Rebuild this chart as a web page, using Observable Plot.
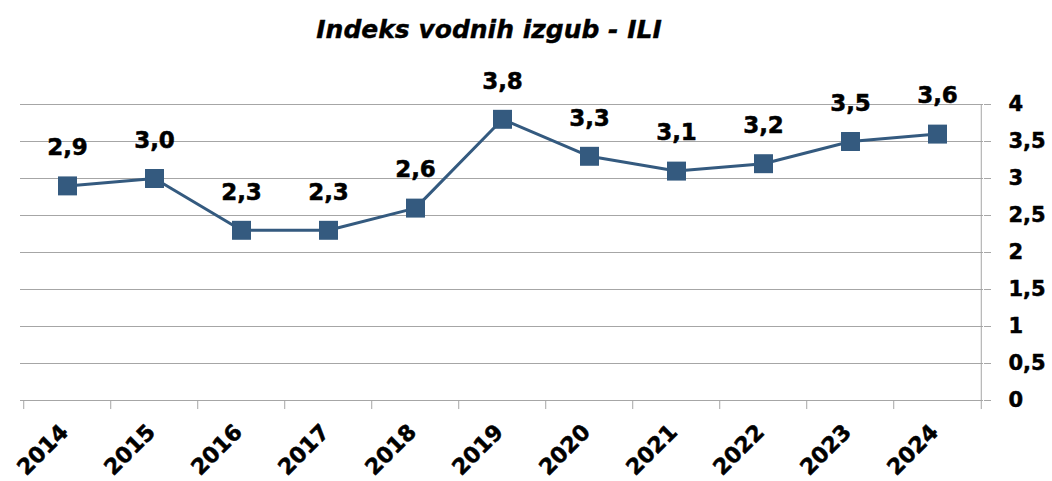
<!DOCTYPE html>
<html><head><meta charset="utf-8">
<script src="https://cdn.jsdelivr.net/npm/d3@7"></script>
<script src="https://cdn.jsdelivr.net/npm/@observablehq/plot@0.6"></script>
<style>
body{margin:0;background:#fff;width:1052px;height:481px;overflow:hidden}
#title{height:62px;line-height:60px;text-align:center;padding-right:74px;font-family:"DejaVu Sans",sans-serif;font-weight:bold;font-style:italic;font-size:25px;color:#000;-webkit-text-stroke:0.4px #000}
</style></head>
<body>
<div id="title">Indeks vodnih izgub - ILI</div>
<div id="chart"></div>
<script>
const years = ["2014","2015","2016","2017","2018","2019","2020","2021","2022","2023","2024"];
const ili = [2.9, 3.0, 2.3, 2.3, 2.6, 3.8, 3.3, 3.1, 3.2, 3.5, 3.6];
const yTicks = [0, 0.5, 1, 1.5, 2, 2.5, 3, 3.5, 4];

const data = years.map((y, i) => ({year: y, value: ili[i]}));
const fmt = v => String(v).replace(".", ",");
const fmt1 = v => v.toFixed(1).replace(".", ",");
const W = 1052, mL = 20, mR = 69;
const step = (W - mL - mR) / years.length;
const color = "#345a7f";
const font = "'DejaVu Sans', sans-serif";

const plot = Plot.plot({
  width: W, height: 419,
  marginTop: 42, marginBottom: 81, marginLeft: mL, marginRight: mR,
  style: {fontFamily: font, fontWeight: "bold", color: "#000", background: "#fff"},
  x: {type: "point", domain: years, padding: 0.5, label: null},
  y: {domain: [0, 4], label: null},
  marks: [
    Plot.gridY(yTicks, {stroke: "#a6a6a6", strokeOpacity: 1, strokeWidth: 1}),
    Plot.ruleY([0], {stroke: "#a6a6a6", strokeWidth: 1}),
    Plot.ruleX(years, {x: d => d, y1: -0.122, y2: 0, dx: -step / 2, stroke: "#a6a6a6", strokeWidth: 1}),
    Plot.ruleX([years[years.length - 1]], {x: d => d, y1: -0.122, y2: 4, dx: step / 2, stroke: "#a6a6a6", strokeWidth: 1}),
    Plot.axisY(yTicks, {anchor: "right", tickSize: 7, tickPadding: 18, textAnchor: "start", tickFormat: fmt, fontSize: 21, fontWeight: "bold", stroke: "#a6a6a6", fill: "#000", textStroke: "#000", textStrokeWidth: 0.5}),
    Plot.axisX(years, {anchor: "bottom", tickSize: 0, tickRotate: -45, textAnchor: "end", fontSize: 22, fontWeight: "bold", dy: 16, dx: -3, fill: "#000", textStroke: "#000", textStrokeWidth: 0.5}),
    Plot.line(data, {x: "year", y: "value", stroke: color, strokeWidth: 3}),
    Plot.dot(data, {x: "year", y: "value", symbol: "square", r: 10.7, fill: color, stroke: null}),
    Plot.text(data, {x: "year", y: "value", text: d => fmt1(d.value), dy: -38, fontSize: 23, fontWeight: "bold", fill: "#000", stroke: "#000", strokeWidth: 0.5})
  ]
});
document.getElementById("chart").appendChild(plot);
</script>
</body></html>
